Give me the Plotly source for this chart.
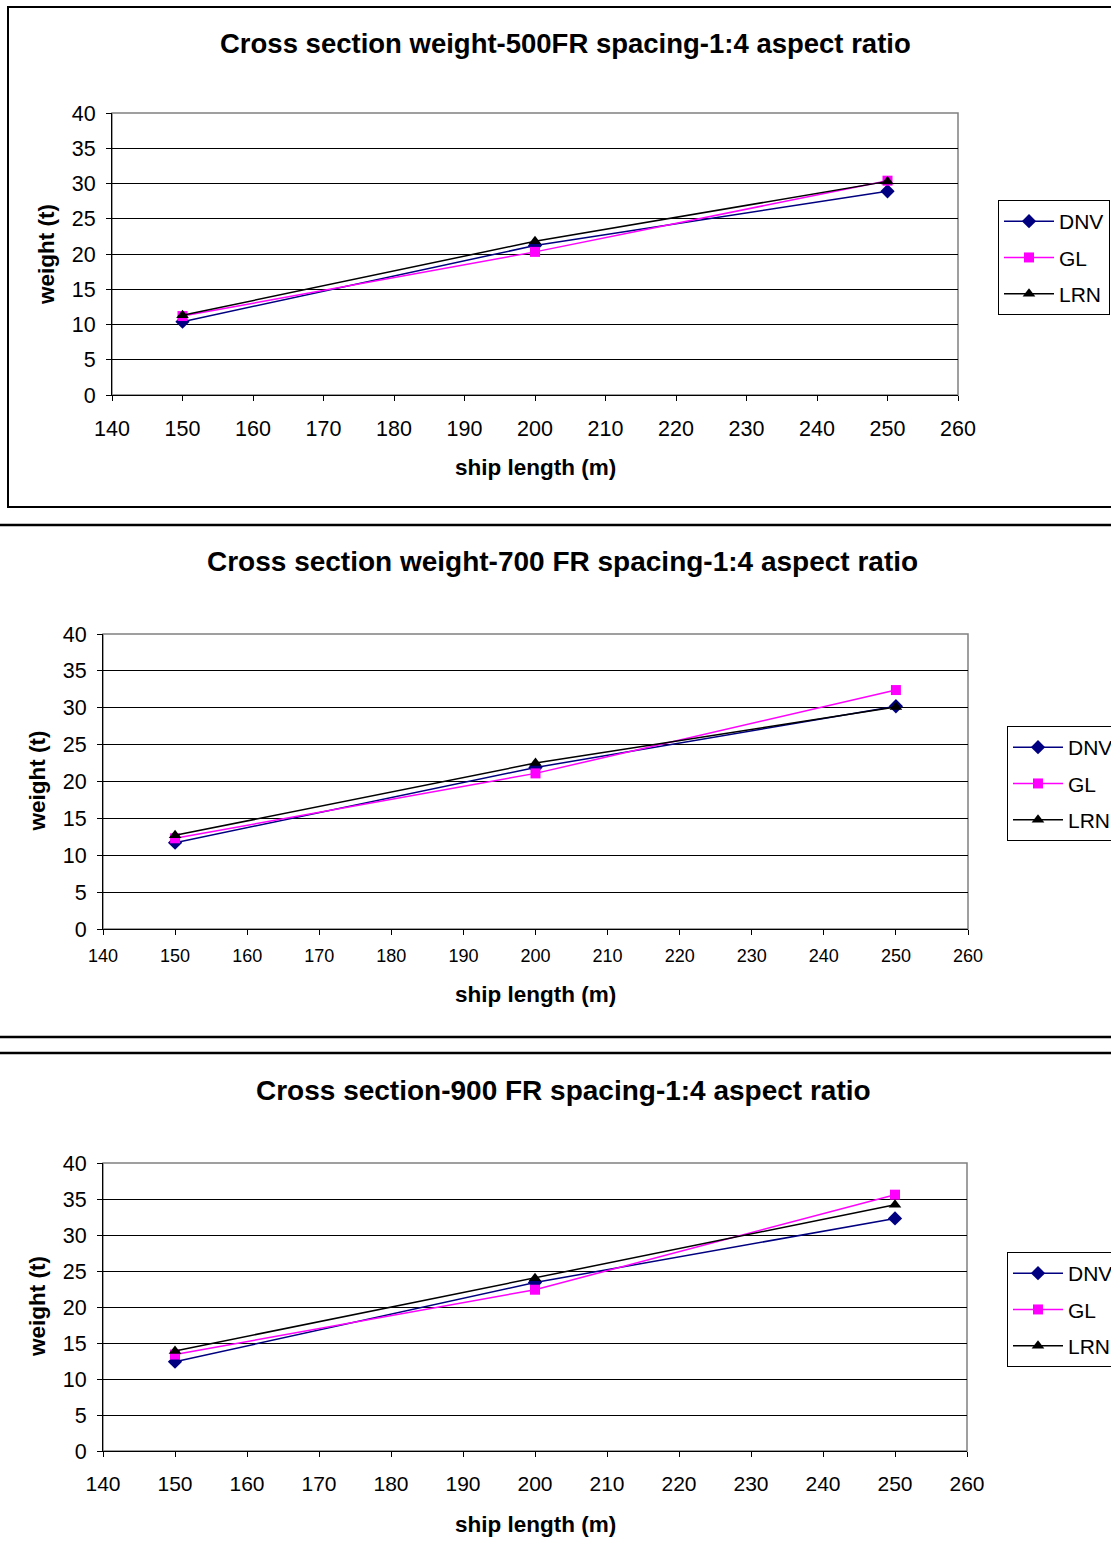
import plotly.graph_objects as go

W, H = 1111, 1562

ship_length = [150, 200, 250]
series_names = ["DNV", "GL", "LRN"]

titles = [
    "Cross section weight-500FR spacing-1:4 aspect ratio",
    "Cross section weight-700 FR spacing-1:4 aspect ratio",
    "Cross section-900 FR spacing-1:4 aspect ratio",
]

# chart 1 (500 FR)
dnv_500 = [10.4, 21.2, 28.9]
gl_500 = [11.2, 20.3, 30.4]
lrn_500 = [11.3, 21.8, 30.3]
# chart 2 (700 FR)
dnv_700 = [11.7, 21.9, 30.2]
gl_700 = [12.3, 21.1, 32.4]
lrn_700 = [12.7, 22.5, 30.1]
# chart 3 (900 FR)
dnv_900 = [12.4, 23.4, 32.3]
gl_900 = [13.4, 22.4, 35.6]
lrn_900 = [13.9, 24.0, 34.2]

x_ticks = list(range(140, 261, 10))
y_ticks = list(range(0, 41, 5))

data_sets = [
    [dnv_500, gl_500, lrn_500],
    [dnv_700, gl_700, lrn_700],
    [dnv_900, gl_900, lrn_900],
]

colors = ["#000080", "#FF00FF", "#000000"]
symbols = ["diamond", "square", "triangle-up"]

# plot areas in pixels: (x0, x1, ytop, ybottom)
areas = [
    (112, 958, 113, 395),
    (103, 968, 634, 929),
    (103, 967, 1163, 1451),
]
legend_pos = [(998, 200), (1007, 726), (1007, 1252)]
title_pos = [(565, 44), (562, 562), (563, 1090)]
title_size = [27.5, 28, 28]
ytitle_x = [47, 37, 37]
xtitle_y = [467, 995, 1524]
xtick_size = [21.5, 18, 21]
xtick_standoff = [9, 5, 9]

FONT = "Liberation Sans, Arial, sans-serif"

def px(x):
    return x / W

def py(y):
    return 1 - y / H

fig = go.Figure()
layout = dict(
    width=W, height=H,
    margin=dict(l=0, r=0, t=0, b=0, autoexpand=False),
    paper_bgcolor="white", plot_bgcolor="white",
    font=dict(family=FONT, size=20, color="black"),
)
annotations = []
shapes = []

for i in range(3):
    xa = "xaxis" if i == 0 else f"xaxis{i+1}"
    ya = "yaxis" if i == 0 else f"yaxis{i+1}"
    xref = "x" if i == 0 else f"x{i+1}"
    yref = "y" if i == 0 else f"y{i+1}"
    leg = "legend" if i == 0 else f"legend{i+1}"
    x0, x1, yt, yb = areas[i]
    for s in range(3):
        fig.add_trace(go.Scatter(
            x=ship_length, y=data_sets[i][s], name=series_names[s],
            mode="lines+markers", xaxis=xref, yaxis=yref, legend=leg,
            legendgroup=f"g{i}{s}",
            line=dict(color=colors[s], width=1.5),
            marker=dict(symbol=symbols[s], color=colors[s],
                        size=11 if s != 1 else 10, line=dict(width=0)),
        ))
    layout[xa] = dict(
        domain=[px(x0), px(x1)], anchor=yref, range=[140, 260],
        tickvals=x_ticks, ticks="outside", ticklen=5, tickcolor="black",
        showgrid=False, showline=True, linecolor="black", linewidth=1,
        mirror=False, zeroline=False, automargin=False,
        ticklabelstandoff=xtick_standoff[i],
        tickfont=dict(size=xtick_size[i], family=FONT),
    )
    layout[ya] = dict(
        domain=[py(yb), py(yt)], anchor=xref, range=[0, 40],
        tickvals=y_ticks, ticks="outside", ticklen=5, tickcolor="black",
        showgrid=True, gridcolor="black", gridwidth=1,
        showline=True, linecolor="black", linewidth=1,
        zeroline=False, automargin=False, ticklabelstandoff=6,
        tickfont=dict(size=21.5, family=FONT),
    )
    # gray border on top/right
    shapes.append(dict(type="rect", xref="paper", yref="paper",
                       x0=px(x0), x1=px(x1), y0=py(yb), y1=py(yt),
                       line=dict(color="#808080", width=1.5), layer="below"))
    lx, ly = legend_pos[i]
    layout[leg] = dict(
        x=px(lx), y=py(ly), xanchor="left", yanchor="top",
        bordercolor="black", borderwidth=1, bgcolor="white",
        font=dict(size=21, family=FONT), tracegroupgap=6,
        itemwidth=50,
    )
    tx, ty = title_pos[i]
    annotations.append(dict(text=f"<b>{titles[i]}</b>", x=px(tx), y=py(ty),
                            xref="paper", yref="paper", showarrow=False,
                            xanchor="center", yanchor="middle",
                            font=dict(size=title_size[i], family=FONT)))
    annotations.append(dict(text="<b>weight (t)</b>", x=px(ytitle_x[i]),
                            y=py((yt + yb) / 2), xref="paper", yref="paper",
                            showarrow=False, textangle=-90,
                            xanchor="center", yanchor="middle",
                            font=dict(size=22.5, family=FONT)))
    annotations.append(dict(text="<b>ship length (m)</b>", x=px((x0 + x1) / 2),
                            y=py(xtitle_y[i]), xref="paper", yref="paper",
                            showarrow=False, xanchor="center", yanchor="middle",
                            font=dict(size=22.5, family=FONT)))

# outer chart borders
shapes.append(dict(type="rect", xref="paper", yref="paper",
                   x0=px(8), x1=px(1115), y0=py(507), y1=py(7),
                   line=dict(color="black", width=2)))
for yline in [525, 1037, 1053]:
    shapes.append(dict(type="line", xref="paper", yref="paper",
                       x0=0, x1=1, y0=py(yline), y1=py(yline),
                       line=dict(color="black", width=2.5)))

layout["annotations"] = annotations
layout["shapes"] = shapes
layout["showlegend"] = True
fig.update_layout(**layout)
fig.write_html(
    "out.html",
    config={"displayModeBar": False},
    post_script="document.body.style.margin='0';document.body.style.overflow='hidden';",
)
